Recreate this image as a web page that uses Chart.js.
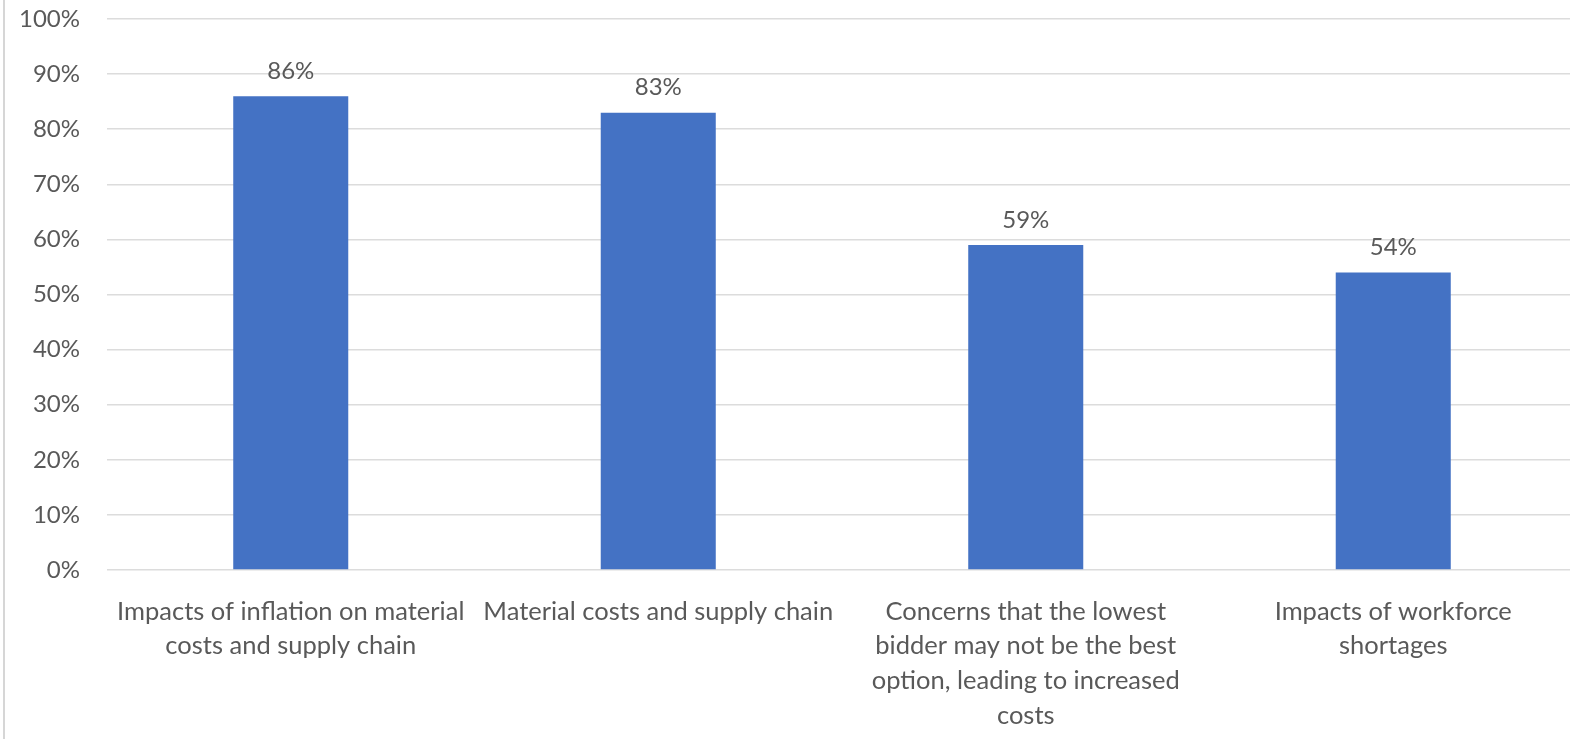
<!DOCTYPE html>
<html>
<head>
<meta charset="utf-8">
<script src="https://cdn.jsdelivr.net/npm/chart.js@4/dist/chart.umd.min.js"></script>
<style>
  html, body { margin: 0; padding: 0; background: #fff; overflow: hidden; }
  #wrap { position: absolute; left: 0; top: 0; width: 1570px; height: 739px; overflow: hidden; }
  #box { position: absolute; left: 0; top: 0; width: 1580px; height: 739px; }
  #border { position: absolute; left: 3px; top: 0; width: 2px; height: 739px; background: #d6d6d6; }
</style>
</head>
<body>
<div id="wrap">
  <div id="box"><canvas id="c"></canvas></div>
  <div id="border"></div>
</div>
<script>
const categories = [
  ["Impacts of inflation on material", "costs and supply chain"],
  ["Material costs and supply chain"],
  ["Concerns that the lowest", "bidder may not be the best", "option, leading to increased", "costs"],
  ["Impacts of workforce", "shortages"]
];
const values = [86, 83, 59, 54];
const yTicks = [0, 10, 20, 30, 40, 50, 60, 70, 80, 90, 100];

const FONT = 'Lato, "Open Sans", sans-serif';
const TEXT = '#595959';

const dataLabels = {
  id: 'dataLabels',
  afterDatasetsDraw(chart) {
    const ctx = chart.ctx;
    const meta = chart.getDatasetMeta(0);
    ctx.save();
    ctx.font = '24px ' + FONT;
    ctx.fillStyle = TEXT;
    ctx.textAlign = 'center';
    ctx.textBaseline = 'middle';
    meta.data.forEach((bar, i) => {
      ctx.fillText(values[i] + '%', bar.x, bar.y - 25);
    });
    ctx.restore();
  }
};

new Chart(document.getElementById('c'), {
  type: 'bar',
  data: {
    labels: categories,
    datasets: [{
      data: values,
      backgroundColor: '#4472C4',
      borderWidth: 0,
      categoryPercentage: 1,
      barPercentage: 0.313
    }]
  },
  options: {
    responsive: true,
    maintainAspectRatio: false,
    animation: false,
    events: [],
    layout: { padding: { top: 0, right: 3, left: 0, bottom: 0 } },
    plugins: { legend: { display: false }, tooltip: { enabled: false } },
    scales: {
      x: {
        grid: { display: false },
        border: { display: false },
        ticks: {
          color: TEXT,
          font: { family: FONT, size: 25.5, lineHeight: 1.36 },
          padding: 16,
          maxRotation: 0,
          autoSkip: false
        },
        afterFit(scale) { scale.height = 169; scale.paddingLeft = 0; scale.paddingRight = 0; }
      },
      y: {
        min: 0, max: 100,
        afterBuildTicks(scale) { scale.ticks = yTicks.map(v => ({ value: v })); },
        grid: { color: '#dcdcdc', lineWidth: 1.5, drawTicks: false },
        border: { display: false },
        ticks: {
          color: TEXT,
          font: { family: FONT, size: 24 },
          padding: 27,
          callback: v => v + '%'
        },
        afterFit(scale) { scale.width = 107; scale.paddingTop = 19; scale.paddingBottom = 0; }
      }
    }
  },
  plugins: [dataLabels]
});
</script>
</body>
</html>
